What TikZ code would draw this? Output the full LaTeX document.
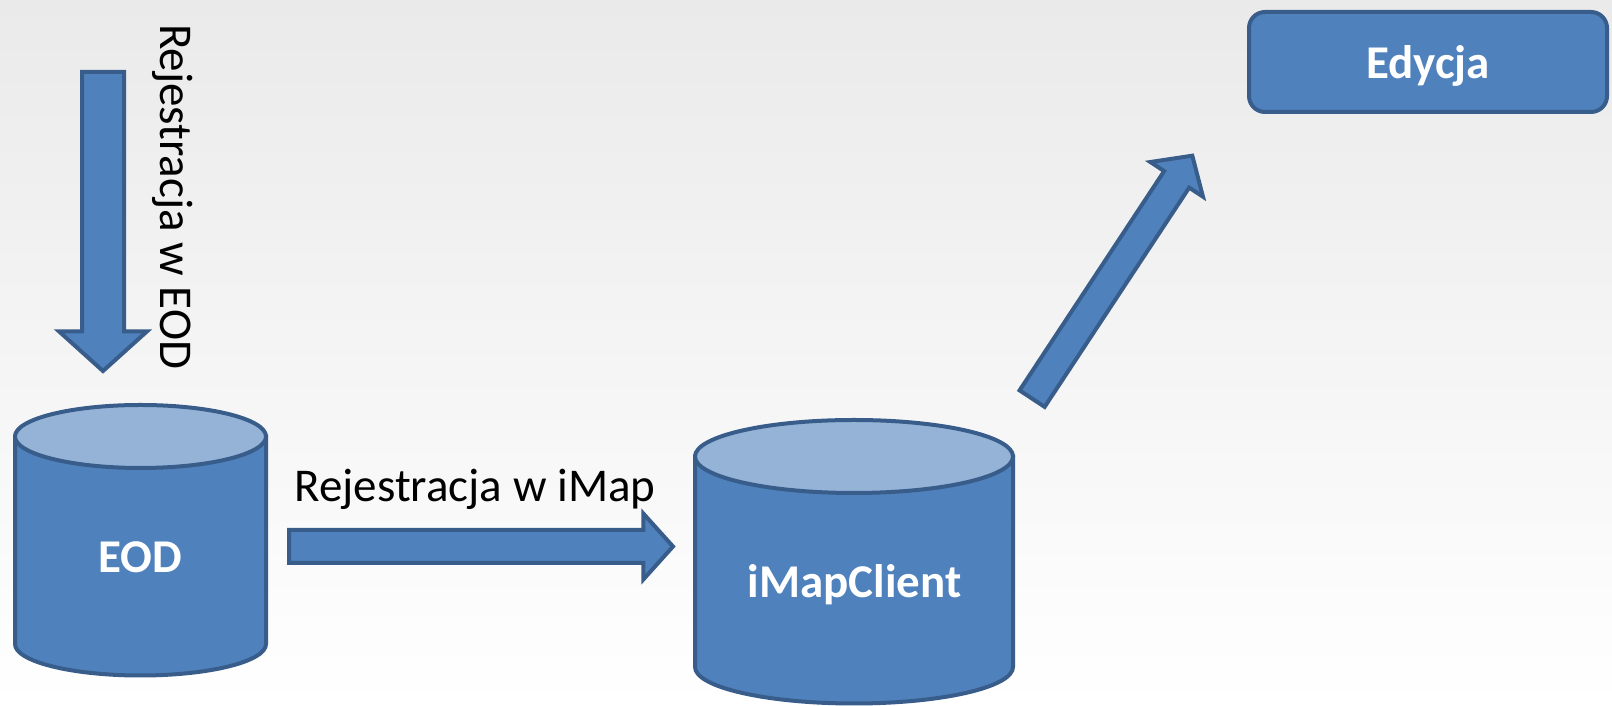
\documentclass[tikz,border=0pt]{standalone}
\usepackage{fontspec}
\setmainfont{Carlito}
\usetikzlibrary{shapes.arrows}
\definecolor{boxblue}{HTML}{4F81BD}
\definecolor{boxedge}{HTML}{385D8A}
\definecolor{boxtop}{HTML}{95B3D7}
\definecolor{bgtop}{HTML}{EAEAEA}
\tikzset{
  blockarrow/.style={single arrow, draw=boxedge, fill=boxblue, line width=2pt,
    inner xsep=0pt, single arrow tip angle=96, anchor=tail},
  drum/.style={draw=boxedge, fill=boxblue, line width=2pt},
  bold label/.style={text=white, font=\fontsize{23.5}{28}\selectfont\bfseries},
  plain label/.style={font=\fontsize{23.5}{28}\selectfont, anchor=base},
}
\begin{document}
\begin{tikzpicture}[x=0.5pt,y=0.5pt]
\useasboundingbox (0,0) rectangle (1612,706);
\shade [top color=bgtop, bottom color=white] (0,0) rectangle (1612,706);

% EOD
\draw [drum] (15,269.5) -- (15,62) arc (180:360:125.5 and 31.5) -- (266,269.5) -- cycle;
\draw [drum, fill=boxtop] (140.5,269.5) ellipse (125.5 and 31.5);
\node [bold label, anchor=base] (eod) at (140.5,133.5) {EOD};

% iMapClient
\draw [drum] (695,249.5) -- (695,39) arc (180:360:159 and 36.5) -- (1013,249.5) -- cycle;
\draw [drum, fill=boxtop] (854,249.5) ellipse (159 and 36.5);
\node [bold label, anchor=base] (imap) at (854.5,108) {iMapClient};

% Edycja
\node [draw=boxedge, fill=boxblue, line width=2pt, rounded corners=8pt,
  minimum width=179pt, minimum height=50pt, text depth=0pt, bold label] (edycja) at (1428,644) {Edycja};

\node [blockarrow, rotate=-90, minimum height=149.5pt, inner ysep=9.5pt,
  single arrow head extend=11.5pt] (arrEod) at (103,636) {};
\node [plain label, rotate=-90] (lblEod) at (160,509.5) {Rejestracja w EOD};

\node [blockarrow, minimum height=192pt, inner ysep=7.25pt,
  single arrow head extend=8.25pt] (arrImap) at (287,159.5) {};
\node [plain label] (lblImap) at (475,204) {Rejestracja w iMap};

\node [blockarrow, rotate=56.6, minimum height=145.5pt, inner ysep=6.5pt,
  single arrow head extend=8.25pt] (arrEdycja) at (1031,305.7) {};

\end{tikzpicture}
\end{document}
